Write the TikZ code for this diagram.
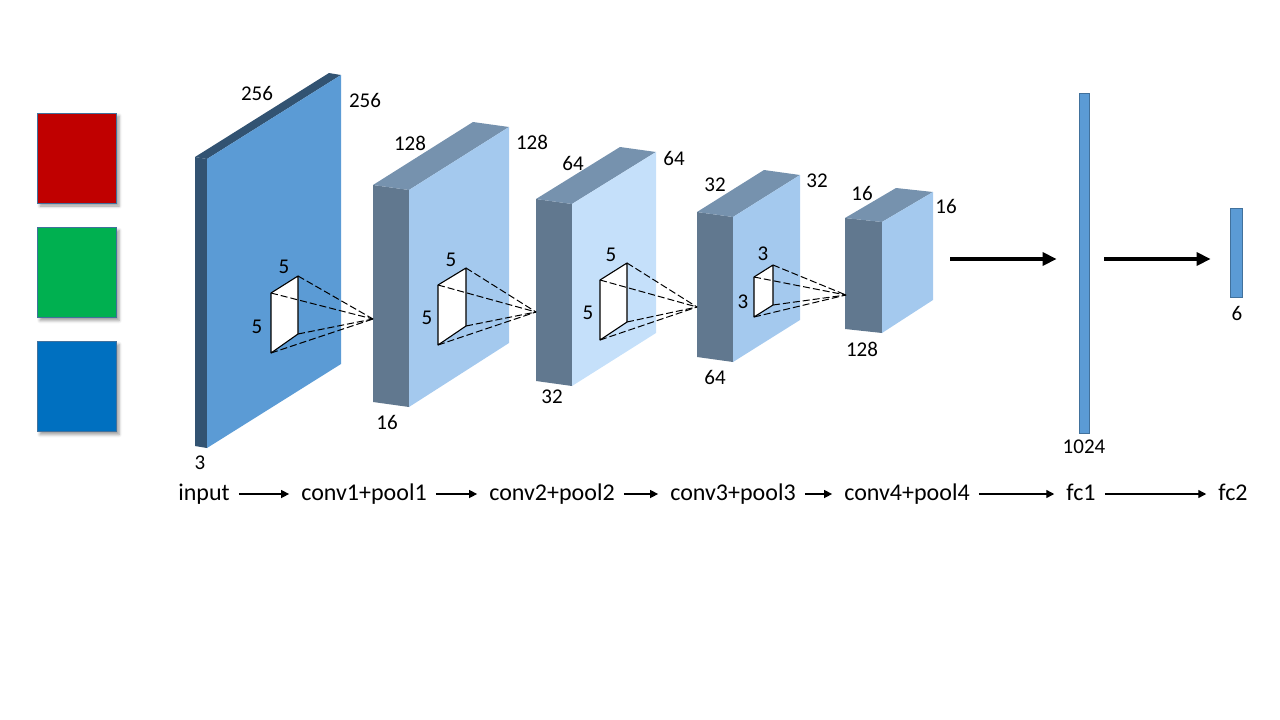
\documentclass[tikz,border=0pt]{standalone}
\usepackage{fontspec}
\setmainfont{Carlito}
\usetikzlibrary{arrows.meta,shadows.blur}
\definecolor{inputblue}{RGB}{91,155,213}
\definecolor{inputdark}{RGB}{50,83,114}
\definecolor{slateside}{RGB}{97,120,143}
\definecolor{slatetop}{RGB}{118,146,174}
\definecolor{lightface}{RGB}{164,201,238}
\definecolor{paleface}{RGB}{197,224,250}
\definecolor{edgeblue}{RGB}{65,113,156}
\definecolor{chred}{RGB}{192,0,0}
\definecolor{chgreen}{RGB}{0,176,80}
\definecolor{chblue}{RGB}{0,112,192}
\begin{document}
\begin{tikzpicture}[x=1pt,y=-1pt,
  dimlabel/.style={font=\fontsize{21}{25}\selectfont, inner sep=0pt},
  steplabel/.style={font=\fontsize{24}{28}\selectfont, text height=16pt, text depth=4pt, inner ysep=4pt, inner xsep=9pt, anchor=base},
  channel/.style={minimum width=79pt, minimum height=90pt, inner sep=0pt, draw=edgeblue, line width=0.8pt,
    blur shadow={shadow xshift=3pt, shadow yshift=-3pt, shadow blur radius=3pt}},
  fcbar/.style={fill=inputblue, draw=edgeblue, line width=0.8pt, inner sep=0pt},
  kernel/.style={fill=white, draw=black, line width=1.1pt, line join=round},
  ray/.style={dash pattern=on 7pt off 3pt, line width=1pt},
  thinarrow/.style={-{Triangle[length=8pt,width=8pt]}, line width=1.4pt, shorten >=3pt},
  bigarrow/.style={-{Triangle[length=14pt,width=13pt]}, line width=3.5pt}]
\useasboundingbox (0,0) rectangle (1280,720);

% input channels
\node[channel, fill=chred] (red) at (76.5,158) {};
\node[channel, fill=chgreen] (green) at (76.5,272.5) {};
\node[channel, fill=chblue] (blue) at (76.5,386.5) {};

% layer blocks: front top-left, front bottom-left, front right, depth, colours
\foreach \ax/\ay/\by/\cx/\cy/\dy/\dx/\dd/\fr/\sd/\tp in {
  207/159/448/341/75/364/-12/-2/inputblue/inputdark/inputdark,
  409/190/407/509/127/343/-36/-5/lightface/slateside/slatetop,
  572/204/386/656/152/333/-36/-5/paleface/slateside/slatetop,
  733/217/362/800/175/320/-36/-5/lightface/slateside/slatetop,
  882/222/333/933/192/300/-37/-4/lightface/slateside/slatetop}{
  \fill[\sd] (\ax,\ay) -- (\ax,\by) -- ++(\dx,\dd) -- (\ax+\dx,\ay+\dd) -- cycle;
  \fill[\tp] (\ax,\ay) -- (\cx,\cy) -- ++(\dx,\dd) -- (\ax+\dx,\ay+\dd) -- cycle;
  \fill[\fr] (\ax,\ay) -- (\cx,\cy) -- (\cx,\dy) -- (\ax,\by) -- cycle;
}

% kernels and their receptive rays
\foreach \i/\lx/\rx/\tly/\try/\bry/\bly/\fx/\fy in {
  1/271/298/293/276/334/353/373/319,
  2/438/466/285/268/326/345/536/312,
  3/600/627/280/263/322/340/697/307,
  4/754/773/277/265/305/317/846/295}{
  \coordinate (k\i-tl) at (\lx,\tly);
  \coordinate (k\i-tr) at (\rx,\try);
  \coordinate (k\i-br) at (\rx,\bry);
  \coordinate (k\i-bl) at (\lx,\bly);
  \coordinate (f\i) at (\fx,\fy);
  \filldraw[kernel] (k\i-tl) -- (k\i-tr) -- (k\i-br) -- (k\i-bl) -- cycle;
  \foreach \c in {tl,tr,br,bl}
    \draw[ray] (k\i-\c) -- (f\i);
}

% sizes
\node[dimlabel] (in-w) at (257,93) {256};
\node[dimlabel] (in-h) at (365,100) {256};
\node[dimlabel] (in-d) at (200,463) {3};
\node[dimlabel] (c1-w) at (410,143) {128};
\node[dimlabel] (c1-h) at (532,142) {128};
\node[dimlabel] (c1-d) at (387,422) {16};
\node[dimlabel] (c2-w) at (573,163) {64};
\node[dimlabel] (c2-h) at (674,158) {64};
\node[dimlabel] (c2-d) at (552,397) {32};
\node[dimlabel] (c3-w) at (715,185) {32};
\node[dimlabel] (c3-h) at (817,181) {32};
\node[dimlabel] (c3-d) at (715,377) {64};
\node[dimlabel] (c4-w) at (862,193) {16};
\node[dimlabel] (c4-h) at (946,206) {16};
\node[dimlabel] (c4-d) at (862,349) {128};
\node[dimlabel] (k1-w) at (284,267) {5};
\node[dimlabel] (k1-h) at (257,327) {5};
\node[dimlabel] (k2-w) at (451,260) {5};
\node[dimlabel] (k2-h) at (427,318) {5};
\node[dimlabel] (k3-w) at (611,255) {5};
\node[dimlabel] (k3-h) at (588,313) {5};
\node[dimlabel] (k4-w) at (763,254) {3};
\node[dimlabel] (k4-h) at (743,302) {3};

% fully connected
\coordinate (poolout) at (950,259);
\node[fcbar, minimum width=10pt, minimum height=340pt] (fc1) at (1084,263) {};
\node[fcbar, minimum width=12pt, minimum height=89pt] (fc2) at (1236,252.5) {};
\node[dimlabel] (fc1-n) at (1084,447) {1024};
\node[dimlabel] (fc2-n) at (1237,313) {6};
\draw[bigarrow, shorten >=22pt] (poolout) -- (fc1.west |- poolout);
\draw[bigarrow, shorten <=15pt, shorten >=19pt] (fc1.east |- poolout) -- (fc2.west |- poolout);

% pipeline
\node[steplabel] (s-in) at (204,500) {input};
\node[steplabel] (s-c1) at (364,500) {conv1+pool1};
\node[steplabel] (s-c2) at (552,500) {conv2+pool2};
\node[steplabel] (s-c3) at (733,500) {conv3+pool3};
\node[steplabel] (s-c4) at (907,500) {conv4+pool4};
\node[steplabel] (s-f1) at (1081,500) {fc1};
\node[steplabel] (s-f2) at (1233,500) {fc2};
\draw[thinarrow] (s-in) -- (s-c1);
\draw[thinarrow] (s-c1) -- (s-c2);
\draw[thinarrow] (s-c2) -- (s-c3);
\draw[thinarrow] (s-c3) -- (s-c4);
\draw[thinarrow] (s-c4) -- (s-f1);
\draw[thinarrow] (s-f1) -- (s-f2);
\end{tikzpicture}
\end{document}
